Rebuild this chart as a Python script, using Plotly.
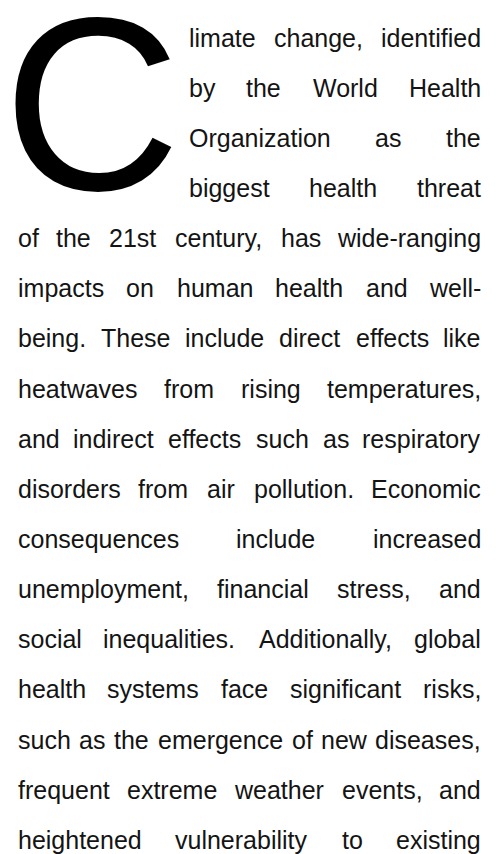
import plotly.graph_objects as go

# ---- data: the paragraph, line by line, as set in the reference ----
drop_cap = "C"
wrapped_lines = [
    "limate change, identified",
    "by the World Health",
    "Organization as the",
    "biggest health threat",
    "of the 21st century, has wide-ranging",
    "impacts on human health and well-",
    "being. These include direct effects like",
    "heatwaves from rising temperatures,",
    "and indirect effects such as respiratory",
    "disorders from air pollution. Economic",
    "consequences include increased",
    "unemployment, financial stress, and",
    "social inequalities. Additionally, global",
    "health systems face significant risks,",
    "such as the emergence of new diseases,",
    "frequent extreme weather events, and",
    "heightened vulnerability to existing",
]
indented_line_count = 4  # lines that sit beside the drop cap

# ---- layout / style ----
W, H = 500, 854
FONT = "Liberation Sans, Arial, Helvetica, sans-serif"
FS = 25
CAP_FS = 246
TEXT_COLOR = "#141414"
LEFT, RIGHT, INDENT_LEFT = 17, 482, 188
FIRST_LINE_Y, LINE_STEP = 37.5, 50.15

# Arial / Liberation Sans advance widths (units of 1/1000 em)
AW = {
    'a': 556, 'b': 556, 'c': 500, 'd': 556, 'e': 556, 'f': 278, 'g': 556, 'h': 556,
    'i': 222, 'j': 222, 'k': 500, 'l': 222, 'm': 833, 'n': 556, 'o': 556, 'p': 556,
    'q': 556, 'r': 333, 's': 500, 't': 278, 'u': 556, 'v': 500, 'w': 722, 'x': 500,
    'y': 500, 'z': 500, 'A': 667, 'B': 667, 'C': 722, 'D': 722, 'E': 667, 'F': 611,
    'G': 778, 'H': 722, 'I': 278, 'J': 500, 'K': 667, 'L': 556, 'M': 833, 'N': 722,
    'O': 778, 'P': 667, 'Q': 778, 'R': 722, 'S': 667, 'T': 611, 'U': 722, 'V': 667,
    'W': 944, 'X': 667, 'Y': 667, 'Z': 611, ',': 278, '.': 278, '-': 333, ' ': 278,
    '0': 556, '1': 556, '2': 556, '3': 556, '4': 556, '5': 556, '6': 556, '7': 556,
    '8': 556, '9': 556,
}


def word_width(w, fs):
    return sum(AW.get(ch, 556) for ch in w) * fs / 1000.0


annotations = []
for i, line in enumerate(wrapped_lines):
    y = FIRST_LINE_Y + i * LINE_STEP
    left = INDENT_LEFT if i < indented_line_count else LEFT
    words = line.split()
    widths = [word_width(w, FS) for w in words]
    gap = (RIGHT - left - sum(widths)) / max(len(words) - 1, 1)
    x = left
    for j, (w, ww) in enumerate(zip(words, widths)):
        if j == 0:
            ax, anchor = x, "left"
        elif j == len(words) - 1:
            ax, anchor = RIGHT, "right"
        else:
            ax, anchor = x + ww / 2, "center"
        annotations.append(dict(
            x=ax, y=y, xref="x", yref="y", text=w, showarrow=False,
            xanchor=anchor, yanchor="middle", borderpad=0,
            font=dict(family=FONT, size=FS, color=TEXT_COLOR),
        ))
        x += ww + gap

annotations.append(dict(
    x=2, y=104, xref="x", yref="y", text=drop_cap, showarrow=False,
    xanchor="left", yanchor="middle", borderpad=0,
    font=dict(family=FONT, size=CAP_FS, color="#000000"),
))

fig = go.Figure()
fig.add_trace(go.Scatter(x=[0, W], y=[0, H], mode="markers",
                         marker=dict(opacity=0), hoverinfo="skip", showlegend=False))
fig.update_layout(
    width=W, height=H, margin=dict(l=0, r=0, t=0, b=0),
    paper_bgcolor="white", plot_bgcolor="white",
    xaxis=dict(range=[0, W], visible=False, fixedrange=True),
    yaxis=dict(range=[H, 0], visible=False, fixedrange=True),
    annotations=annotations, showlegend=False,
)
fig.write_html(
    "out.html",
    config={"displayModeBar": False},
    post_script="document.body.style.margin='0';document.body.style.overflow='hidden';",
)
